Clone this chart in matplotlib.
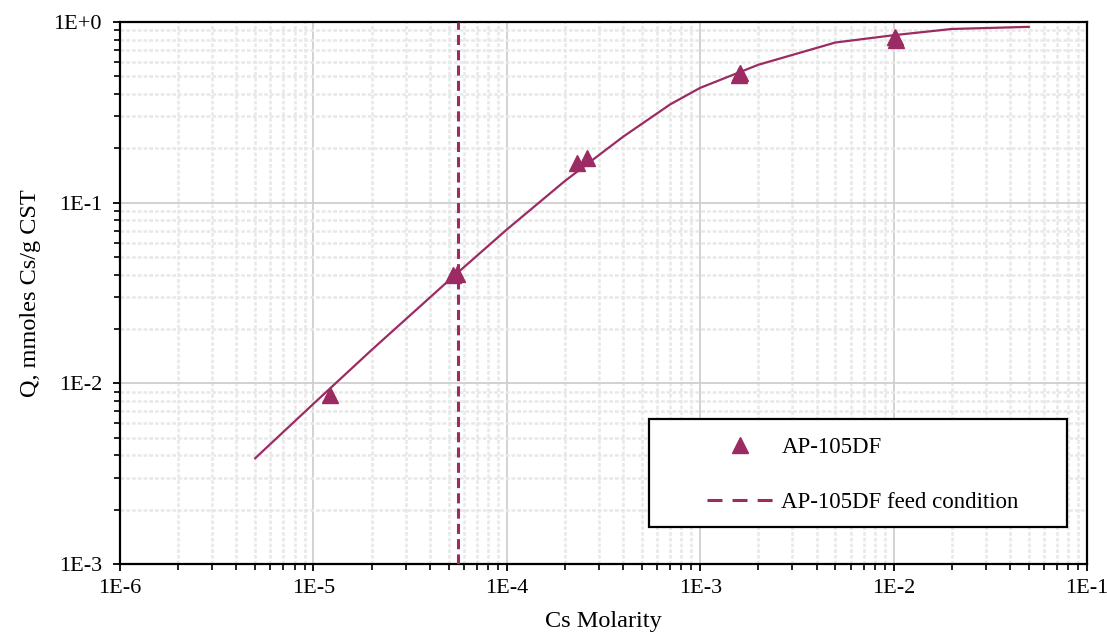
import matplotlib
matplotlib.use("Agg")
import matplotlib.pyplot as plt
from matplotlib.ticker import LogLocator, FixedLocator, NullFormatter
from matplotlib.lines import Line2D
from matplotlib.patches import Rectangle

plt.rcParams['font.family'] = ['Liberation Serif', 'DejaVu Serif']

# Data
fit_c = [5e-6, 1e-5, 2e-5, 5e-5, 1e-4, 2e-4, 4e-4, 7e-4, 1e-3, 2e-3, 5e-3, 1e-2, 2e-2, 5e-2]
fit_q = [0.00385, 0.0077, 0.0153, 0.037, 0.071, 0.132, 0.232, 0.35, 0.432, 0.58, 0.77, 0.845, 0.915, 0.94]
obs_c = [1.22e-5, 5.3e-5, 5.5e-5, 2.3e-4, 2.6e-4, 1.58e-3, 1.6e-3, 1.02e-2, 1.03e-2]
obs_q = [0.0086, 0.040, 0.0405, 0.166, 0.177, 0.51, 0.52, 0.83, 0.79]
feed_c = 5.6e-5
x_ticks = [1e-6, 1e-5, 1e-4, 1e-3, 1e-2, 1e-1]
x_labels = ['1E-6', '1E-5', '1E-4', '1E-3', '1E-2', '1E-1']
y_ticks = [1e-3, 1e-2, 1e-1, 1e0]
y_labels = ['1E-3', '1E-2', '1E-1', '1E+0']

color = '#9B2B62'
W, H = 1107, 634

fig = plt.figure(figsize=(W / 100, H / 100), dpi=100)
ax = fig.add_axes([120 / W, 1 - 564 / H, (1087 - 120) / W, (564 - 22) / H])
ax.set_xscale('log')
ax.set_yscale('log')
ax.set_xlim(1e-6, 1e-1)
ax.set_ylim(1e-3, 1e0)

ax.plot(fit_c, fit_q, color=color, lw=1.6, zorder=3)
ax.plot(obs_c, obs_q, linestyle='none', marker='^', ms=12, color=color,
        markeredgecolor=color, zorder=4)
ax.axvline(feed_c, color=color, lw=2.2, linestyle=(0, (3.3, 1.7)), zorder=3)

ax.xaxis.set_major_locator(FixedLocator(x_ticks))
ax.set_xticklabels(x_labels)
ax.yaxis.set_major_locator(FixedLocator(y_ticks))
ax.set_yticklabels(y_labels)
ax.xaxis.set_minor_locator(LogLocator(base=10, subs=range(2, 10), numticks=20))
ax.yaxis.set_minor_locator(LogLocator(base=10, subs=range(2, 10), numticks=20))
ax.xaxis.set_minor_formatter(NullFormatter())
ax.yaxis.set_minor_formatter(NullFormatter())

ax.grid(which='major', color='#cfcfcf', lw=1.3, zorder=0)
ax.grid(which='minor', color='#e8e8e8', lw=1.8, linestyle=(0, (1.5, 0.8)), zorder=0)
ax.set_axisbelow(True)

ax.tick_params(which='both', direction='out', color='black', labelsize=16)
ax.tick_params(axis='x', pad=6)
ax.tick_params(axis='y', pad=8)
ax.tick_params(which='major', length=5, width=1.3)
ax.tick_params(which='minor', length=4, width=1.2)
for s in ax.spines.values():
    s.set_linewidth(1.6)
    s.set_color('black')

ax.set_xlabel('Cs Molarity', fontsize=17.5, labelpad=9)
ax.set_ylabel('Q, mmoles Cs/g CST', fontsize=17.5, labelpad=9)

# Legend frame
fig.patches.append(Rectangle((649 / W, 1 - 527 / H), (1067 - 649) / W, (527 - 419) / H,
                             transform=fig.transFigure, facecolor='white',
                             edgecolor='black', lw=1.6, zorder=5))
handles = [
    Line2D([], [], linestyle='none', marker='^', ms=12, color=color),
    Line2D([], [], color=color, lw=2.2, linestyle=(0, (4.9, 3.3))),
]
labels = ['AP-105DF', 'AP-105DF feed condition']
leg = fig.legend(handles, labels, loc='upper left',
                 bbox_to_anchor=(707 / W, 1 - 437 / H),
                 fontsize=16.5, frameon=False, handlelength=2.9,
                 labelspacing=1.5, borderpad=0, handletextpad=0.35,
                 borderaxespad=0)
leg.set_zorder(6)

fig.savefig('out.png', dpi=100)
